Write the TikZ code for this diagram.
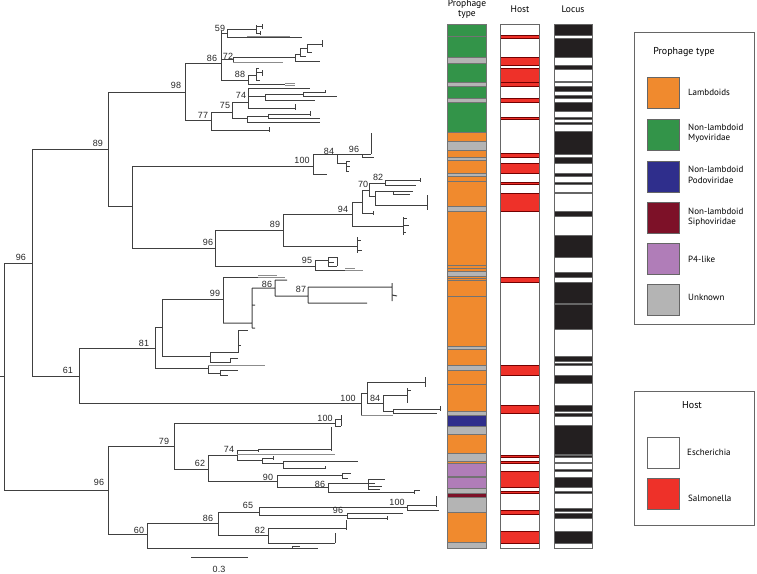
\documentclass[tikz,border=0pt]{standalone}
\usepackage{fontspec}
\setmainfont{PT Sans}
\newfontfamily\numfont{Liberation Sans}
\definecolor{cLam}{HTML}{F08A2E}
\definecolor{cMyo}{HTML}{339449}
\definecolor{cPod}{HTML}{2F2E8C}
\definecolor{cSip}{HTML}{7D1128}
\definecolor{cPf}{HTML}{B07DB8}
\definecolor{cUnk}{HTML}{B4B4B4}
\definecolor{cSal}{HTML}{EE3129}
\definecolor{cLoc}{HTML}{231F20}
\definecolor{cTree}{HTML}{404040}
\tikzset{
  br/.style={draw=cTree, line width=1pt},
  brg/.style={draw=black!45, line width=1pt},
  bl/.style={font=\numfont\fontsize{9}{10}\selectfont, text=black!85, inner sep=0pt},
  bandp/.style={draw=black!55, line width=0.35pt},
  bandr/.style={draw=red!45!black, line width=0.35pt},
  bandk/.style={draw=black!60, line width=0.3pt},
  barframe/.style={draw=black!60, line width=0.5pt},
  legbox/.style={draw=black!60, line width=0.5pt},
  sw/.style={draw=black!60, line width=0.5pt},
  legtxt/.style={font=\fontsize{9}{10.5}\selectfont, anchor=west, align=left, inner sep=0pt},
  coltitle/.style={font=\fontsize{9.5}{10.5}\selectfont, inner sep=0pt, align=center}
}
\begin{document}
\begin{tikzpicture}[x=1pt,y=-1pt]
\path[use as bounding box] (0,0) rectangle (757,573);
% ---------------- tree ----------------
% root
\draw[br] (0,376)--(4,376) (4,263)--(4,490) (4,263)--(32,263) (4,490)--(108,490);
% upper 96
\draw[br] (32,149)--(32,376) (32,149)--(108,149) (32,376)--(79,376);
% 89
\draw[br] (108,92)--(108,206) (108,92)--(185,92) (108,206)--(132,206);
% 98
\draw[br] (185,63)--(185,120) (185,63)--(221,63) (185,120)--(211,120);
% 86 node
\draw[br] (221,31)--(221,80) (221,33)--(227,33) (227,29)--(227,37) (227,29)--(256,29)
  (256,25)--(256,33) (256,26)--(262,26) (262,24)--(262,29) (256,33)--(260,33) (260,31)--(260,35)
  (227,37)--(302,37);
\draw[brg] (247,36)--(290,36);
% 72
\draw[br] (221,59)--(233,59) (233,57)--(233,62) (233,57)--(295,57) (295,54)--(295,61)
  (295,54)--(300,54) (300,48)--(300,56) (300,48)--(307,48) (307,44)--(307,52) (307,44)--(322,44)
  (322,40)--(322,47) (307,52)--(312,52) (300,56)--(306,56) (295,61)--(320,61);
\draw[brg] (233,62)--(283,62);
% 88
\draw[br] (221,80)--(248,80) (248,75)--(248,84) (248,75)--(256,75) (256,68)--(256,80)
  (256,68)--(259,68) (256,72)--(262,72) (262,70)--(262,76) (256,80)--(260,80)
  (248,84)--(285,84);
\draw[brg] (285,83)--(295,83) (285,85)--(295,85);
% 74
\draw[br] (248,88)--(248,108) (248,88)--(310,88) (248,96)--(265,96) (265,94)--(265,100)
  (265,94)--(303,94) (303,92)--(303,96) (303,92)--(325,92) (325,90)--(325,93)
  (303,96)--(337,96) (265,100)--(315,100) (248,108)--(295,108) (295,104)--(295,110);
% 75
\draw[br] (211,112)--(232,112) (232,102)--(232,118) (232,102)--(248,102) (232,118)--(247,118)
  (247,116)--(247,122) (247,116)--(268,116) (268,114)--(268,118) (268,114)--(310,114)
  (310,111)--(310,116) (268,118)--(320,118) (247,122)--(320,122);
% 77
\draw[br] (211,112)--(211,130) (211,130)--(269,130) (269,127)--(269,132);
% 132 node and 100 clade
\draw[br] (132,166)--(132,248) (132,166)--(313,166) (313,154)--(313,174) (313,174)--(327,174)
  (313,154)--(337,154) (337,154)--(337,163) (337,163)--(346,163) (346,161)--(346,171)
  (346,161)--(350,161) (346,166)--(350,166) (346,171)--(349,171)
  (337,154)--(362,154) (362,154)--(362,157) (362,154)--(371,154) (371,133)--(371,154)
  (362,157)--(374,157);
% 96 / 89 / 94
\draw[br] (132,248)--(215,248) (215,230)--(215,266) (215,230)--(283,230)
  (283,214)--(283,246) (283,214)--(352,214) (352,202)--(352,226)
  (352,202)--(362,202) (362,190)--(362,213) (362,213)--(373,213) (373,211)--(373,215)
  (362,190)--(369,190) (369,183)--(369,196)
  (369,183)--(385,183) (385,180)--(385,185) (385,180)--(420,180) (420,178)--(420,182) (385,185)--(416,185)
  (369,196)--(375,196) (375,191)--(375,205) (375,191)--(413,191) (393,191)--(393,194) (393,194)--(410,194)
  (375,205)--(427,205) (427,195)--(427,210)
  (352,226)--(403,226) (403,217)--(403,235) (403,218)--(407,218) (403,225)--(409,225) (403,232)--(406,232)
  (283,246)--(357,246) (357,237)--(357,253) (357,240)--(361,240) (357,250)--(362,250);
% 95
\draw[br] (215,266)--(315,266) (315,260)--(315,270) (315,260)--(328,260) (328,257)--(328,266)
  (328,257)--(337,257) (337,257)--(337,266) (328,266)--(337,266) (328,262)--(334,262)
  (315,270)--(345,270);
\draw[brg] (345,270)--(363,270) (345,268)--(355,268);
% 61
\draw[br] (79,348)--(79,403) (79,348)--(155,348) (155,327)--(155,368) (155,327)--(162,327)
  (162,299)--(162,356) (162,299)--(223,299) (223,277)--(223,323) (223,277)--(258,277);
\draw[brg] (258,277)--(285,277) (258,275)--(277,275);
\draw[br] (223,323)--(252,323) (252,288)--(252,328) (252,288)--(275,288) (275,280)--(275,296)
  (275,280)--(287,280) (275,296)--(308,296) (308,287)--(308,303) (308,287)--(392,287)
  (392,283)--(392,301) (392,295)--(397,296) (308,303)--(367,303)
  (252,305)--(255,305) (252,328)--(255,328);
\draw[br] (162,356)--(210,356) (210,352)--(210,362) (210,352)--(238,352) (238,330)--(238,353)
  (238,330)--(248,330) (238,345)--(241,345) (210,362)--(230,362) (230,358)--(230,363)
  (230,358)--(238,358);
\draw[br] (155,368)--(208,368) (208,365)--(208,373) (208,373)--(220,373) (220,370)--(220,375)
  (220,370)--(238,370) (220,375)--(228,375);
\draw[brg] (208,365)--(265,365);
% 100 at 361
\draw[br] (79,403)--(361,403) (361,393)--(361,415) (361,393)--(367,393) (367,382)--(367,403)
  (367,382)--(425,382) (425,377)--(425,387) (367,403)--(383,403) (383,395)--(383,411)
  (383,395)--(407,395) (407,388)--(407,403) (407,390)--(411,390)
  (383,411)--(393,411) (393,409)--(393,413) (393,409)--(440,409) (440,406)--(440,411)
  (393,413)--(437,413);
\draw[brg] (361,415)--(393,415);
% bottom 96
\draw[br] (108,446)--(108,534) (108,446)--(174,446) (174,423)--(174,469)
  (174,423)--(335,423) (335,419)--(335,426) (335,419)--(341,419) (335,426)--(341,426)
  (341,419)--(341,426) (341,415)--(341,419);
\draw[br] (174,469)--(208,469) (208,455)--(208,481) (208,455)--(237,455) (237,450)--(237,460)
  (237,450)--(258,450) (258,449)--(258,452) (258,449)--(331,449) (331,427)--(331,451)
  (237,460)--(262,460) (262,458)--(262,463) (262,458)--(273,458) (273,456)--(273,460)
  (262,463)--(283,463) (283,461)--(283,468) (283,461)--(358,461) (283,468)--(325,468) (325,466)--(325,469);
\draw[brg] (237,454)--(335,454);
\draw[br] (208,481)--(277,481) (277,475)--(277,487) (277,475)--(342,475) (342,473)--(342,478)
  (342,473)--(351,473) (342,478)--(348,478) (277,487)--(328,487) (328,483)--(328,492)
  (328,483)--(368,483) (368,479)--(368,489) (368,479)--(385,479) (368,483)--(375,483)
  (368,486)--(382,486) (368,489)--(380,489) (328,492)--(414,492) (414,490)--(414,494) (414,490)--(420,490);
\draw[br] (108,534)--(147,534) (147,523)--(147,548) (147,523)--(218,523) (218,512)--(218,535)
  (218,512)--(259,512) (259,507)--(259,515) (259,507)--(407,507) (407,505)--(407,510)
  (407,505)--(436,505) (436,496)--(436,507) (407,510)--(439,510)
  (259,515)--(347,515) (347,513)--(347,518) (347,513)--(403,513) (347,518)--(387,518) (387,516)--(387,520)
  (218,535)--(268,535) (268,528)--(268,543) (268,528)--(346,528) (346,520)--(346,530)
  (268,543)--(335,543) (335,533)--(335,543)
  (147,548)--(318,548) (292,546)--(292,548) (292,546)--(300,546);
% scale bar
\draw[br] (191,557)--(248,557);
\node[bl] (sb) at (219,569) {0.3};
% branch labels
\node[bl] (l1) at (21,257) {96};
\node[bl] (l2) at (99,482) {96};
\node[bl] (l3) at (98,143) {89};
\node[bl] (l4) at (68,370) {61};
\node[bl] (l5) at (176,85) {98};
\node[bl] (l6) at (212,58) {86};
\node[bl] (l7) at (203,115) {77};
\node[bl] (l8) at (220,28) {59};
\node[bl] (l9) at (228,56) {72};
\node[bl] (l10) at (240,74) {88};
\node[bl] (l11) at (225,105) {75};
\node[bl] (l12) at (241,95) {74};
\node[bl] (l13) at (302,160) {100};
\node[bl] (l14) at (329,151) {84};
\node[bl] (l15) at (354,149) {96};
\node[bl] (l16) at (363,184) {70};
\node[bl] (l17) at (378,177) {82};
\node[bl] (l18) at (343,209) {94};
\node[bl] (l19) at (275,224) {89};
\node[bl] (l20) at (208,242) {96};
\node[bl] (l21) at (307,260) {95};
\node[bl] (l22) at (144,343) {81};
\node[bl] (l23) at (215,293) {99};
\node[bl] (l24) at (267,284) {86};
\node[bl] (l25) at (301,289) {87};
\node[bl] (l26) at (348,398) {100};
\node[bl] (l27) at (375,398) {84};
\node[bl] (l28) at (164,441) {79};
\node[bl] (l29) at (325,418) {100};
\node[bl] (l30) at (200,463) {62};
\node[bl] (l31) at (229,449) {74};
\node[bl] (l32) at (268,477) {90};
\node[bl] (l33) at (320,484) {86};
\node[bl] (l34) at (139,530) {60};
\node[bl] (l35) at (208,518) {86};
\node[bl] (l36) at (248,505) {65};
\node[bl] (l37) at (397,502) {100};
\node[bl] (l38) at (338,510) {96};
\node[bl] (l39) at (260,530) {82};
% ---------------- bars ----------------
\node[coltitle] (t1) at (467,9) {Prophage\\type};
\node[coltitle] (t2) at (520,9) {Host};
\node[coltitle] (t3) at (573,9) {Locus};
\foreach \c/\a/\b in {cMyo/24/36, cMyo/36/57, cUnk/57/63, cMyo/63/82, cUnk/82/86, cMyo/86/98,
  cUnk/98/102, cMyo/102/132, cLam/132/141, cUnk/141/150, cLam/150/157, cUnk/157/160,
  cLam/160/173, cUnk/173/176, cLam/176/181, cLam/181/206, cUnk/206/211, cLam/211/265,
  cLam/265/268, cLam/268/271, cUnk/271/276, cLam/276/278, cLam/278/280, cLam/280/296,
  cLam/296/346, cUnk/346/349, cLam/349/365, cUnk/365/370, cLam/370/384, cLam/384/411,
  cUnk/411/415, cPod/415/426, cUnk/426/434, cLam/434/453, cUnk/453/461, cLam/461/463,
  cPf/463/476, cUnk/476/477, cPf/477/488, cUnk/488/493, cSip/493/497, cUnk/497/512,
  cLam/512/542, cUnk/542/548}
  {\filldraw[fill=\c, bandp] (447,\a) rectangle (486,\b);}
% host
\filldraw[fill=white, barframe] (500,24) rectangle (539,548);
\foreach \a/\b in {35/38, 57/65, 68/82, 82/86, 98/102, 117/119, 153/157, 163/173, 182/184,
  193/211, 277/282, 365/375, 405/413, 455/457, 461/463, 471/487, 491/493, 510/514, 531/543}
  {\filldraw[fill=cSal, bandr] (500,\a) rectangle (539,\b);}
\draw[barframe] (500,24) rectangle (539,548);
% locus
\filldraw[fill=white, barframe] (554,24) rectangle (592,548);
\foreach \a/\b in {24/35, 38/57, 65/69, 81/82.5, 86/91, 95/98, 102/111, 117/119, 122/124,
  131/154, 157/163, 173/176, 182/184, 192/193, 211/216, 235/257, 272/277, 282/303, 304/329,
  356/361, 363/365, 375/383, 405/411, 413/416, 425/454, 455/457, 462/463, 469/471, 477/487,
  491/493, 508/511, 513/518, 531/543}
  {\filldraw[fill=cLoc, bandk] (554,\a) rectangle (592,\b);}
\draw[barframe] (554,24) rectangle (592,548);
% ---------------- legends ----------------
\draw[legbox] (634,32) rectangle (754,324);
\node[font=\fontsize{10}{11}\selectfont, inner sep=0pt] (lt1) at (684,52) {Prophage type};
\filldraw[fill=cLam, sw] (647,77) rectangle (679,108);
\filldraw[fill=cMyo, sw] (647,119) rectangle (679,150);
\filldraw[fill=cPod, sw] (647,161) rectangle (679,192);
\filldraw[fill=cSip, sw] (647,202) rectangle (679,233);
\filldraw[fill=cPf, sw] (647,243) rectangle (679,274);
\filldraw[fill=cUnk, sw] (647,284) rectangle (679,315);
\node[legtxt] (e1) at (688,92) {Lambdoids};
\node[legtxt] (e2) at (688,133) {Non-lambdoid\\Myoviridae};
\node[legtxt] (e3) at (688,175) {Non-lambdoid\\Podoviridae};
\node[legtxt] (e4) at (688,217) {Non-lambdoid\\Siphoviridae};
\node[legtxt] (e5) at (688,259) {P4-like};
\node[legtxt] (e6) at (688,297) {Unknown};
\draw[legbox] (634,391) rectangle (754,525);
\node[font=\fontsize{10}{11}\selectfont, inner sep=0pt] (lt2) at (692,405) {Host};
\filldraw[fill=white, sw] (647,437) rectangle (679,468);
\filldraw[fill=cSal, sw] (647,478) rectangle (679,509);
\node[legtxt] (h1) at (687,452) {Escherichia};
\node[legtxt] (h2) at (688,498) {Salmonella};
\end{tikzpicture}
\end{document}
